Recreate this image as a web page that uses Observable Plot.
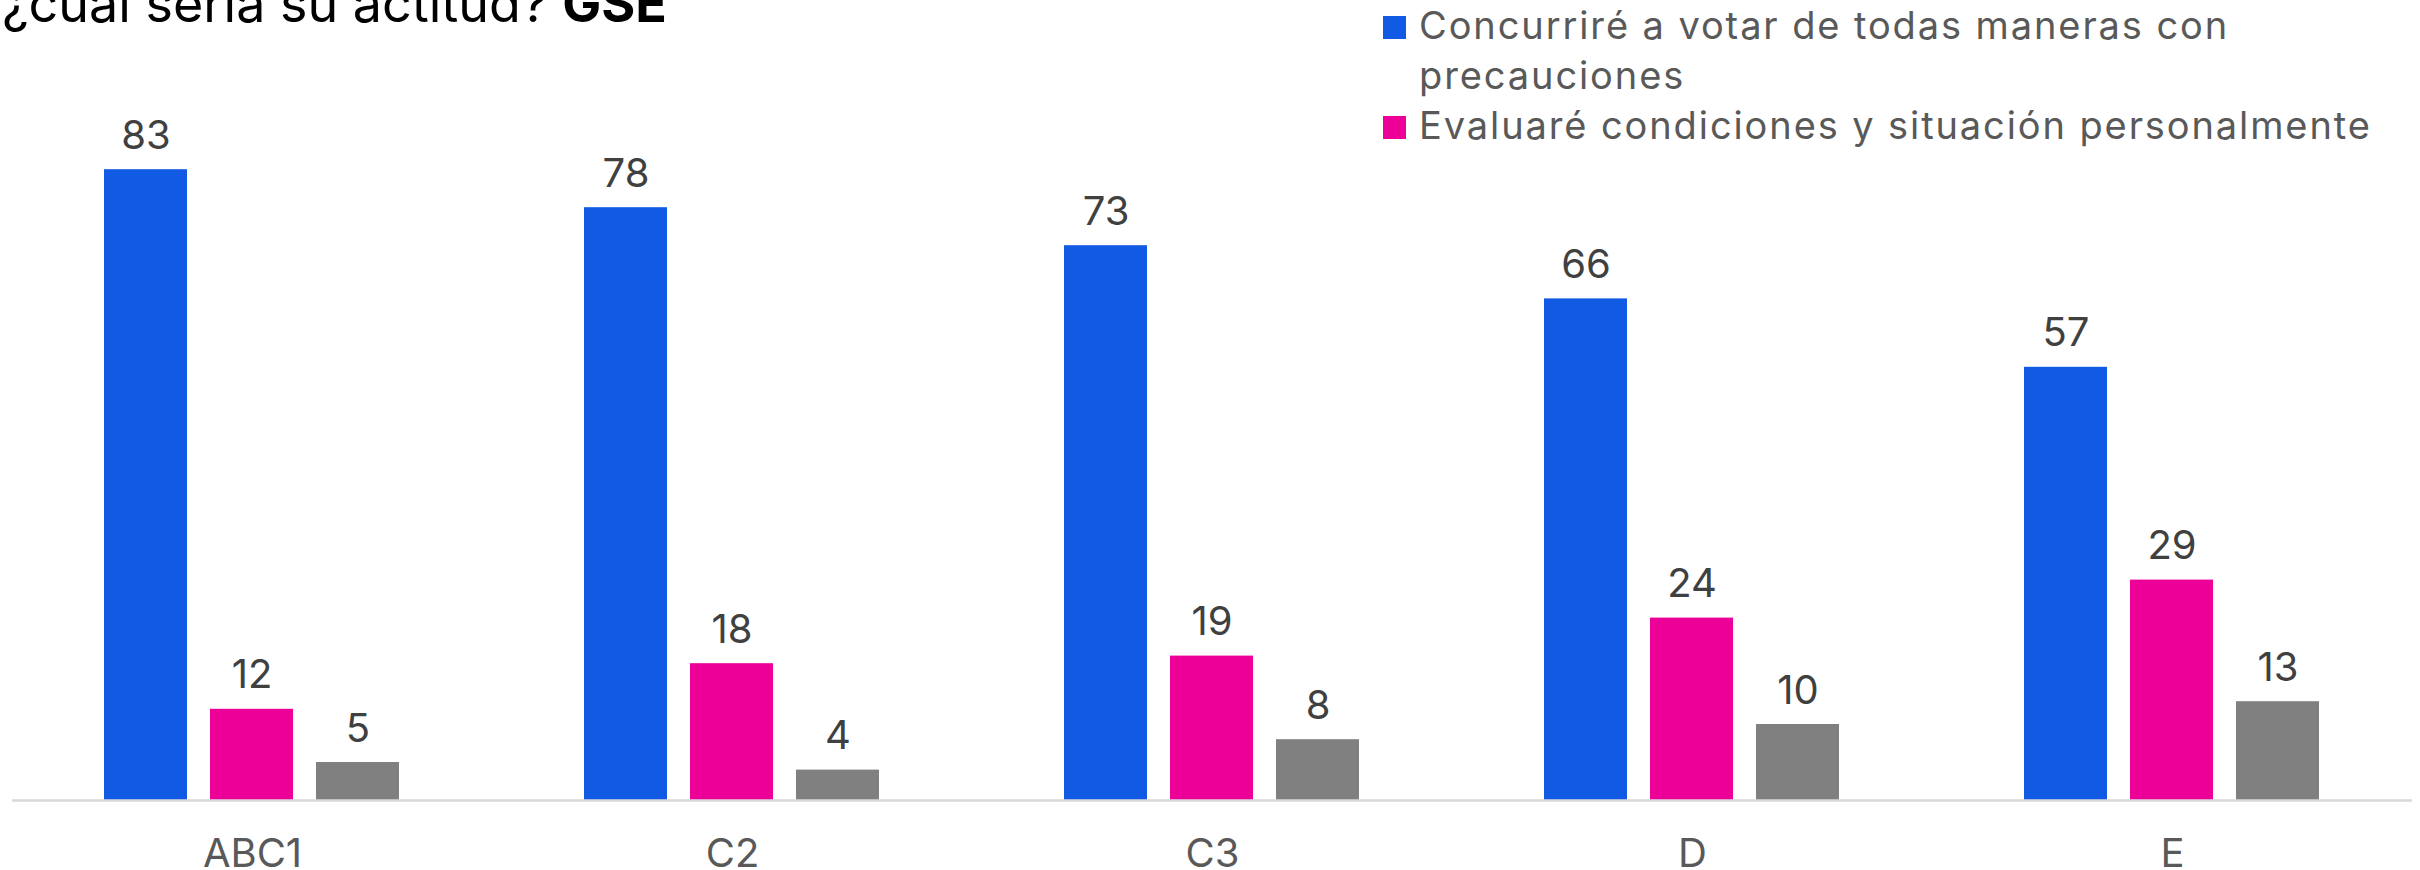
<!DOCTYPE html>
<html>
<head>
<meta charset="utf-8">
<script src="https://cdn.jsdelivr.net/npm/d3@7"></script>
<script src="https://cdn.jsdelivr.net/npm/@observablehq/plot@0.6"></script>
<style>
  html, body { margin: 0; padding: 0; background: #ffffff; }
  body { width: 2420px; height: 870px; position: relative; overflow: hidden; font-family: Inter, "Noto Sans", sans-serif; }
  #chart { position: absolute; left: 0; top: 0; }
  #title { position: absolute; left: 2px; top: -22px; font-size: 52px; line-height: 52px; color: #000; white-space: nowrap; }
  #title b { font-weight: 700; }
  #legend { position: absolute; left: 1383px; top: 0px; font-size: 38px; line-height: 50px; color: #595959; letter-spacing: 1.9px; }
  .item { position: relative; padding-left: 36px; width: 1000px; }
  .sw { position: absolute; left: 0; top: 16px; width: 23px; height: 23px; }
</style>
</head>
<body>
<div id="chart"></div>
<div id="title">¿cuál sería su actitud? <b>GSE</b></div>
<div id="legend"></div>
<script>
// Data
const groups = ["ABC1", "C2", "C3", "D", "E"];
const series = [
  "Concurriré a votar de todas maneras con precauciones",
  "Evaluaré condiciones y situación personalmente",
  "Otra respuesta"
];
const concurrire = [83, 78, 73, 66, 57];
const evaluare = [12, 18, 19, 24, 29];
const otra = [5, 4, 8, 10, 13];
const colors = ["#115AE3", "#EC0098", "#808080"];
const legendSeries = [series[0], series[1]];

const valuesBySeries = [concurrire, evaluare, otra];
const data = groups.flatMap((g, i) =>
  series.map((s, j) => ({ gse: g, serie: s, valor: valuesBySeries[j][i] }))
);

const chart = Plot.plot({
  width: 2420,
  height: 870,
  marginTop: 40,
  marginBottom: 70,
  marginLeft: 12,
  marginRight: 8,
  style: { fontFamily: "Inter, 'Noto Sans', sans-serif", background: "#ffffff", overflow: "visible" },
  fx: { domain: groups, padding: 0, label: null },
  x: { domain: series, paddingInner: 0.216, paddingOuter: 0.861, axis: null },
  y: { domain: [0, 100], axis: null },
  color: { domain: series, range: colors },
  marks: [
    Plot.barY(data, { fx: "gse", x: "serie", y: "valor", fill: "serie" }),
    Plot.ruleY([0], { stroke: "#d9d9d9", strokeWidth: 2.5 }),
    Plot.text(data, {
      fx: "gse", x: "serie", y: "valor", text: d => String(d.valor),
      lineAnchor: "bottom", dy: -21, fontSize: 40, fill: "#404040"
    }),
    Plot.axisFx({ anchor: "bottom", tickSize: 0, tickPadding: 38, fontSize: 40, fill: "#595959", label: null })
  ]
});
document.getElementById("chart").appendChild(chart);

// Legend (HTML)
const legend = document.getElementById("legend");
legendSeries.forEach((s) => {
  const item = document.createElement("div");
  item.className = "item";
  const sw = document.createElement("span");
  sw.className = "sw";
  sw.style.background = colors[series.indexOf(s)];
  item.appendChild(sw);
  item.appendChild(document.createTextNode(s));
  legend.appendChild(item);
});
</script>
</body>
</html>
